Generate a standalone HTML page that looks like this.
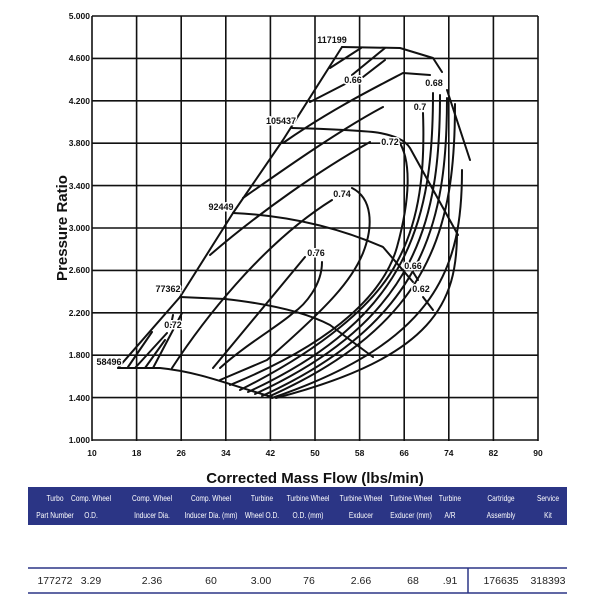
<!DOCTYPE html>
<html><head><meta charset="utf-8"><style>
html,body{margin:0;padding:0;background:#fff;width:600px;height:600px;overflow:hidden}
svg{display:block}
.t{font-family:"Liberation Sans",sans-serif;font-size:8.5px;font-weight:bold;fill:#111}
.l{font-family:"Liberation Sans",sans-serif;font-size:9px;font-weight:bold;fill:#111;paint-order:stroke;stroke:#fff;stroke-width:3px}
.h{font-family:"Liberation Sans",sans-serif;font-size:8.5px;fill:#fff}
.d{font-family:"Liberation Sans",sans-serif;font-size:10.5px;fill:#222}
</style></head><body>
<svg id="s" width="600" height="600" viewBox="0 0 600 600" xmlns="http://www.w3.org/2000/svg">
<g stroke="#111" stroke-width="1.6" fill="none">
<line x1="92" y1="16" x2="92" y2="441"/><line x1="136.6" y1="16" x2="136.6" y2="441"/><line x1="181.2" y1="16" x2="181.2" y2="441"/><line x1="225.8" y1="16" x2="225.8" y2="441"/><line x1="270.4" y1="16" x2="270.4" y2="441"/><line x1="315" y1="16" x2="315" y2="441"/><line x1="359.6" y1="16" x2="359.6" y2="441"/><line x1="404.2" y1="16" x2="404.2" y2="441"/><line x1="448.8" y1="16" x2="448.8" y2="441"/><line x1="493.4" y1="16" x2="493.4" y2="441"/><line x1="538" y1="16" x2="538" y2="441"/>
<line x1="92" y1="16" x2="538" y2="16"/><line x1="92" y1="58.4" x2="538" y2="58.4"/><line x1="92" y1="100.8" x2="538" y2="100.8"/><line x1="92" y1="143.2" x2="538" y2="143.2"/><line x1="92" y1="185.6" x2="538" y2="185.6"/><line x1="92" y1="228" x2="538" y2="228"/><line x1="92" y1="270.4" x2="538" y2="270.4"/><line x1="92" y1="312.8" x2="538" y2="312.8"/><line x1="92" y1="355.2" x2="538" y2="355.2"/><line x1="92" y1="397.6" x2="538" y2="397.6"/><line x1="92" y1="440" x2="538" y2="440"/>
</g>
<g class="t" text-anchor="end">
<text x="90" y="19">5.000</text><text x="90" y="61">4.600</text><text x="90" y="104">4.200</text><text x="90" y="146">3.800</text><text x="90" y="189">3.400</text><text x="90" y="231">3.000</text><text x="90" y="273">2.600</text><text x="90" y="316">2.200</text><text x="90" y="358">1.800</text><text x="90" y="401">1.400</text><text x="90" y="443">1.000</text>
</g>
<g class="t" text-anchor="middle">
<text x="92" y="456">10</text><text x="136.6" y="456">18</text><text x="181.2" y="456">26</text><text x="225.8" y="456">34</text><text x="270.4" y="456">42</text><text x="315" y="456">50</text><text x="359.6" y="456">58</text><text x="404.2" y="456">66</text><text x="448.8" y="456">74</text><text x="493.4" y="456">82</text><text x="538" y="456">90</text>
</g>
<text x="315" y="483" text-anchor="middle" style="font-family:'Liberation Sans',sans-serif;font-weight:bold;font-size:15px" fill="#111">Corrected Mass Flow (lbs/min)</text>
<text transform="translate(67,228) rotate(-90)" text-anchor="middle" style="font-family:'Liberation Sans',sans-serif;font-weight:bold;font-size:15px" fill="#111">Pressure Ratio</text>
<g stroke="#111" stroke-width="2" fill="none" stroke-linejoin="round" stroke-linecap="round" id="curves">
<polyline points="118,368 180,297 233,213 283,140 342,47"/>
<polyline points="342,47 400,48 433,58 442,72"/>
<polyline points="447,90 470,160"/>
<path d="M118,368 L160,368 C200,372 230,385 272,397"/>
<path d="M180,297 L225,299 C270,304 305,312 330,325 L373,357"/>
<path d="M233,213 C280,215 330,224 383,247 L413,282"/>
<path d="M292,128 C330,129 370,131 380,133 C395,136 405,140 410,148 L458,235"/>
<!-- left diagonals -->
<path d="M213,368 L305,257"/>
<path d="M172,368 C200,325 260,245 332,200"/>
<path d="M153,368 L182,313"/>
<path d="M210,255 C260,212 320,170 370,142"/>
<path d="M243,198 C290,165 340,130 383,107"/>
<path d="M283,143 C330,110 380,85 403,73 L430,75"/>
<path d="M310,102 L347,83 M363,77 L385,60 M330,68 L361,48 M385,48 L352,75"/>
<!-- lower-left small -->
<path d="M128,367 L152,332 M135,368 L167,333 M145,368 L165,340 M173,315 L171,325"/>
<!-- right branches of inner contours -->
<path d="M322,262 C322,285 305,305 293,313 C280,325 245,345 220,368"/>
<path d="M352,188 C372,198 374,225 363,253 C352,280 330,305 267,360 L220,380"/>
<path d="M398,140 C412,160 410,200 397,247 C385,290 340,340 230,385"/>
<path d="M423,113 C425,170 420,220 397,262 C375,305 320,350 240,390"/>
<path d="M423,297 L433,310 M413,272 L418,280"/>
</g>
<g class="l" text-anchor="middle">
<text x="332" y="43">117199</text><text x="281" y="124">105437</text><text x="221" y="210">92449</text><text x="168" y="292">77362</text><text x="109" y="365">58496</text>
<text x="353" y="83">0.66</text><text x="434" y="86">0.68</text><text x="420" y="110">0.7</text><text x="390" y="145">0.72</text><text x="342" y="197">0.74</text><text x="316" y="256">0.76</text><text x="413" y="269">0.66</text><text x="421" y="292">0.62</text><text x="173" y="328">0.72</text>
</g>
<rect x="28" y="487" width="539" height="38" fill="#2b3585"/>
<g id="hdr" class="h" text-anchor="middle"></g>
<line x1="28" y1="568" x2="567" y2="568" stroke="#2b3585" stroke-width="1.5"/>
<line x1="28" y1="593" x2="567" y2="593" stroke="#2b3585" stroke-width="1.5"/>
<line x1="468" y1="568" x2="468" y2="593" stroke="#2b3585" stroke-width="1.5"/>
<g class="d" text-anchor="middle">
<text x="55" y="584">177272</text><text x="91" y="584">3.29</text><text x="152" y="584">2.36</text><text x="211" y="584">60</text><text x="261" y="584">3.00</text><text x="309" y="584">76</text><text x="361" y="584">2.66</text><text x="413" y="584">68</text><text x="450" y="584">.91</text><text x="501" y="584">176635</text><text x="548" y="584">318393</text>
</g>
</svg>
<script>
(function(){
var ns='http://www.w3.org/2000/svg',g=document.getElementById('curves');
function add(d){var e=document.createElementNS(ns,'path');e.setAttribute('d',d);g.appendChild(e);}
var fans=[[248,392,433,93],[255,394,440,95],[262,396,447,98],[268,397,455,104],[272,398,462,170],[276,398,457,232]];
fans.forEach(function(f){var bx=f[0],by=f[1],tx=f[2],ty=f[3];
var p1x=bx+0.88*(tx-bx),p1y=by-0.25*(by-ty),p2x=tx,p2y=ty+0.42*(by-ty);
add('M'+bx+','+by+' C'+p1x+','+p1y+' '+p2x+','+p2y+' '+tx+','+ty);});
var h=document.getElementById('hdr');
var cols=[[55,'Turbo','Part Number'],[91,'Comp. Wheel','O.D.'],[152,'Comp. Wheel','Inducer Dia.'],[211,'Comp. Wheel','Inducer Dia. (mm)'],[262,'Turbine','Wheel O.D.'],[308,'Turbine Wheel','O.D. (mm)'],[361,'Turbine Wheel','Exducer'],[411,'Turbine Wheel','Exducer (mm)'],[450,'Turbine','A/R'],[501,'Cartridge','Assembly'],[548,'Service','Kit']];
cols.forEach(function(c){[[c[1],501],[c[2],518]].forEach(function(r){var t=document.createElementNS(ns,'text');
t.setAttribute('transform','translate('+c[0]+','+r[1]+') scale(0.78,1)');t.textContent=r[0];h.appendChild(t);});});
})();
</script>
</body></html>
